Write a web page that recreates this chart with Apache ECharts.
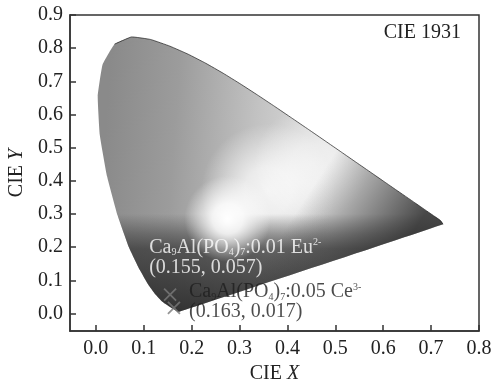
<!DOCTYPE html>
<html>
<head>
<meta charset="utf-8">
<script src="https://cdn.jsdelivr.net/npm/echarts@6/dist/echarts.min.js"></script>
<style>
  html, body { margin: 0; padding: 0; background: #fff; }
  #chart { width: 493px; height: 383px; }
</style>
</head>
<body>
<div id="chart"></div>
<script>
// CIE 1931 spectral locus (380 nm .. 650 nm)
var locusX = [0.1741, 0.1733, 0.1714, 0.1689, 0.1644, 0.1566, 0.1440, 0.1355, 0.1241, 0.1096,
  0.0913, 0.0687, 0.0454, 0.0235, 0.0082, 0.0039, 0.0139, 0.0389, 0.0743, 0.1142,
  0.1547, 0.1929, 0.2296, 0.2658, 0.3016, 0.3373, 0.3731, 0.4087, 0.4441, 0.4788,
  0.5125, 0.5448, 0.5752, 0.6029, 0.6270, 0.6658, 0.6915, 0.7079, 0.7190, 0.7250]
var locusY = [0.0050, 0.0048, 0.0051, 0.0069, 0.0109, 0.0177, 0.0297, 0.0399, 0.0578, 0.0868,
  0.1327, 0.2007, 0.2950, 0.4127, 0.5384, 0.6548, 0.7502, 0.8120, 0.8338, 0.8262,
  0.8059, 0.7816, 0.7543, 0.7243, 0.6923, 0.6589, 0.6245, 0.5896, 0.5547, 0.5202,
  0.4866, 0.4544, 0.4242, 0.3965, 0.3725, 0.3340, 0.3083, 0.2920, 0.2809, 0.2690]

// phosphor points
var markNames = ['Eu', 'Ce']
var markX = [0.155, 0.163]
var markY = [0.057, 0.017]

var xTicks = [0.0, 0.1, 0.2, 0.3, 0.4, 0.5, 0.6, 0.7, 0.8]
var yTicks = [0.0, 0.1, 0.2, 0.3, 0.4, 0.5, 0.6, 0.7, 0.8, 0.9]

var serif = 'Liberation Serif'

function subRich(color) {
  return {
    t: { fontSize: 20, fontFamily: serif, color: color, lineHeight: 20 },
    sub: { fontSize: 10, fontFamily: serif, color: color, lineHeight: 20, verticalAlign: 'bottom' },
    sup: { fontSize: 10, fontFamily: serif, color: color, lineHeight: 20, verticalAlign: 'top' }
  }
}

var chart = echarts.init(document.getElementById('chart'))

var option = {
  animation: false,
  title: {
    text: 'CIE 1931',
    right: 27,
    top: 18,
    textStyle: { fontSize: 20, fontWeight: 'normal', fontFamily: serif, color: '#222' }
  },
  grid: {
    left: 70,
    right: 14,
    top: 15,
    bottom: 52,
    outerBoundsMode: 'none',
    containLabel: false,
    show: true,
    borderColor: '#333',
    borderWidth: 1.5
  },
  xAxis: {
    type: 'value',
    min: -0.054,
    max: 0.8,
    name: '{a|CIE }{b|X}',
    nameLocation: 'middle',
    nameGap: 32,
    nameTextStyle: {
      rich: {
        a: { fontSize: 20, fontFamily: serif, color: '#222' },
        b: { fontSize: 20, fontFamily: serif, fontStyle: 'italic', color: '#222' }
      }
    },
    axisLine: { onZero: false, lineStyle: { color: '#333', width: 1.5 } },
    axisTick: { inside: true, length: 6, customValues: xTicks, lineStyle: { color: '#333', width: 1.5 } },
    axisLabel: {
      customValues: xTicks,
      formatter: function (v) { return v.toFixed(1) },
      margin: 8,
      fontSize: 20,
      fontFamily: serif,
      color: '#222'
    },
    splitLine: { show: false }
  },
  yAxis: {
    type: 'value',
    min: -0.053,
    max: 0.9,
    name: '{a|CIE }{b|Y}',
    nameLocation: 'middle',
    nameGap: 42,
    nameTextStyle: {
      rich: {
        a: { fontSize: 20, fontFamily: serif, color: '#222' },
        b: { fontSize: 20, fontFamily: serif, fontStyle: 'italic', color: '#222' }
      }
    },
    axisLine: { onZero: false, lineStyle: { color: '#333', width: 1.5 } },
    axisTick: { inside: true, length: 6, customValues: yTicks, lineStyle: { color: '#333', width: 1.5 } },
    axisLabel: {
      customValues: yTicks,
      formatter: function (v) { return v.toFixed(1) },
      margin: 7,
      fontSize: 20,
      fontFamily: serif,
      color: '#222'
    },
    splitLine: { show: false }
  },
  series: [
    {
      type: 'custom',
      silent: true,
      data: [[0, 0]],
      renderItem: function (params, api) {
        var pts = locusX.map(function (x, i) { return api.coord([x, locusY[i]]) })
        var p = function (x, y) { return api.coord([x, y]) }
        var rx = function (d) { return api.size([d, 0])[0] }
        var shape = { points: pts, smooth: 0.1 }

        var a1 = p(0.02, 0.55), a2 = p(0.5, 0.5)
        var base = new echarts.graphic.LinearGradient(a1[0], a1[1], a2[0], a2[1], [
          { offset: 0, color: '#8a8a8a' },
          { offset: 0.3, color: '#9c9c9c' },
          { offset: 0.65, color: '#c2c2c2' },
          { offset: 1, color: '#e2e2e2' }
        ], true)

        var glow = function (x, y, r, a) {
          var c = p(x, y)
          return new echarts.graphic.RadialGradient(c[0], c[1], rx(r), [
            { offset: 0, color: 'rgba(255,255,255,' + a + ')' },
            { offset: 0.35, color: 'rgba(255,255,255,' + (a * 0.85) + ')' },
            { offset: 1, color: 'rgba(255,255,255,0)' }
          ], true)
        }

        var b1 = p(0.3, 0.3), b2 = p(0.3, 0.0)
        var dark = new echarts.graphic.LinearGradient(b1[0], b1[1], b2[0], b2[1], [
          { offset: 0, color: 'rgba(40,40,40,0)' },
          { offset: 0.2, color: 'rgba(40,40,40,0.4)' },
          { offset: 0.35, color: 'rgba(40,40,40,0.65)' },
          { offset: 1, color: 'rgba(30,30,30,0.85)' }
        ], true)

        var r1 = p(0.47, 0.42), r2 = p(0.66, 0.24)
        var red = new echarts.graphic.LinearGradient(r1[0], r1[1], r2[0], r2[1], [
          { offset: 0, color: 'rgba(45,45,45,0)' },
          { offset: 1, color: 'rgba(45,45,45,0.85)' }
        ], true)

        return {
          type: 'group',
          children: [
            { type: 'polygon', shape: shape, style: { fill: base } },
            { type: 'polygon', shape: shape, style: { fill: glow(0.36, 0.37, 0.14, 0.8) } },
            { type: 'polygon', shape: shape, style: { fill: glow(0.45, 0.45, 0.12, 0.55) } },
            { type: 'polygon', shape: shape, style: { fill: dark } },
            { type: 'polygon', shape: shape, style: { fill: red } },
            { type: 'polygon', shape: shape, style: { fill: glow(0.275, 0.285, 0.09, 1) } },
            { type: 'polyline', shape: { points: pts.slice(17), smooth: 0.1 }, style: { fill: null, stroke: 'rgba(30,30,30,0.7)', lineWidth: 1 } }
          ]
        }
      }
    },
    {
      type: 'scatter',
      symbol: 'path://M0 0L10 10M10 0L0 10',
      symbolSize: 12,
      itemStyle: { color: 'rgba(0,0,0,0)', borderColor: '#7a7a7a', borderWidth: 1.8 },
      data: markNames.map(function (n, i) {
        var isEu = n === 'Eu'
        var color = isEu ? '#ffffff' : '#1e1e1e'
        var dopant = isEu ? '0.01 Eu' : '0.05 Ce'
        var charge = isEu ? '2-' : '3-'
        return {
          value: [markX[i], markY[i]],
          label: {
            show: true,
            position: isEu ? [-14, -50] : [22, -19],
            align: 'left',
            verticalAlign: 'top',
            formatter: '{t|Ca}{sub|9}{t|Al(PO}{sub|4}{t|)}{sub|7}{t|:' + dopant + '}{sup|' + charge + '}\n' +
              '{t|(' + markX[i].toFixed(3) + ', ' + markY[i].toFixed(3) + ')}',
            rich: subRich(color)
          }
        }
      })
    }
  ]
}

chart.setOption(option)
</script>
</body>
</html>
